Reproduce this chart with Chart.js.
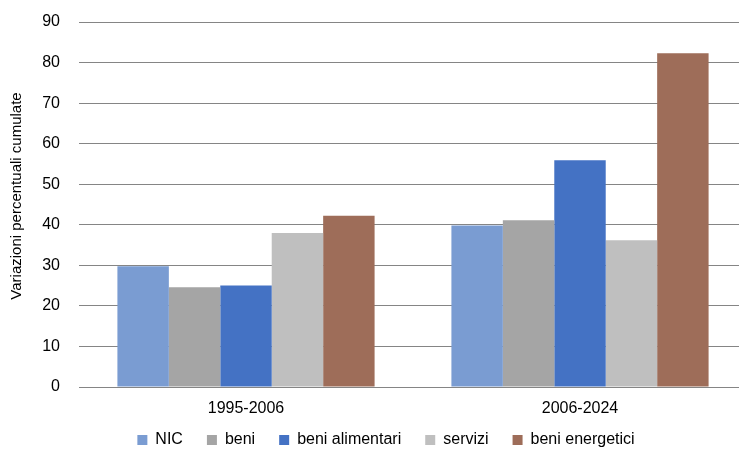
<!DOCTYPE html>
<html>
<head>
<meta charset="utf-8">
<script src="https://cdn.jsdelivr.net/npm/chart.js@4/dist/chart.umd.min.js"></script>
<style>
  html, body { margin: 0; padding: 0; background: #fff; overflow: hidden; }
  #wrap { width: 739px; height: 455px; overflow: hidden; position: relative; }
  #c { position: absolute; left: 0; top: 0; }
</style>
</head>
<body>
<div id="wrap"><canvas id="c" width="748" height="455"></canvas></div>
<script>
const categories = ['1995-2006', '2006-2024'];
const seriesNames = ['NIC', 'beni', 'beni alimentari', 'servizi', 'beni energetici'];
const nic = [29.8, 39.8];
const beni = [24.6, 41.1];
const beniAlimentari = [25.0, 55.9];
const servizi = [38.0, 36.2];
const beniEnergetici = [42.2, 82.3];
const yTicks = [0, 10, 20, 30, 40, 50, 60, 70, 80, 90];
const yTitle = 'Variazioni percentuali cumulate';
const colors = ['#7a9cd2', '#a5a5a5', '#4472c4', '#bfbfbf', '#9e6d59'];

const seriesValues = [nic, beni, beniAlimentari, servizi, beniEnergetici];
const datasets = seriesNames.map((name, i) => ({
  label: name,
  data: seriesValues[i],
  backgroundColor: colors[i],
  borderWidth: 0,
  categoryPercentage: 0.77,
  barPercentage: 1.0
}));

Chart.defaults.font.family = '"Liberation Sans", Arial, sans-serif';
Chart.defaults.color = '#000';

const PLOT_BOTTOM = 387;
const LEGEND_CENTER = 433;
const X_AXIS_HEIGHT = 33;

const layoutPlugin = {
  id: 'layoutPlugin',
  afterLayout(chart) {
    const lg = chart.legend;
    if (lg) {
      const h = lg.height;
      lg.top = LEGEND_CENTER - h / 2;
      lg.bottom = lg.top + h;
    }
    const xs = chart.scales.x;
    if (xs) {
      xs.bottom = xs.top + X_AXIS_HEIGHT;
      xs.height = X_AXIS_HEIGHT;
    }
  },
  afterDraw(chart) {
    const ctx = chart.ctx;
    ctx.save();
    ctx.translate(17, 196);
    ctx.rotate(-Math.PI / 2);
    ctx.font = '15px "Liberation Sans", Arial, sans-serif';
    ctx.fillStyle = '#000';
    ctx.textAlign = 'center';
    ctx.textBaseline = 'middle';
    ctx.fillText(yTitle, 0, 0);
    ctx.restore();
  }
};

new Chart(document.getElementById('c'), {
  type: 'bar',
  data: { labels: categories, datasets },
  plugins: [layoutPlugin],
  options: {
    responsive: false,
    animation: false,
    layout: { padding: { left: 25, right: 1, top: 22, bottom: 0 } },
    plugins: {
      legend: {
        position: 'bottom',
        labels: {
          boxWidth: 10,
          boxHeight: 10,
          padding: 24,
          font: { size: 16 },
          color: '#000'
        }
      },
      tooltip: { enabled: false }
    },
    scales: {
      x: {
        grid: { display: false, drawTicks: false },
        border: { display: false },
        ticks: { font: { size: 16 }, color: '#000', padding: 12 },
        afterFit: s => {
          const lh = s.chart.legend ? s.chart.legend.height : 0;
          s.height = Math.max(1, (455 - PLOT_BOTTOM) - lh);
        }
      },
      y: {
        min: 0,
        max: 90,
        afterBuildTicks: s => { s.ticks = yTicks.map(v => ({ value: v })); },
        grid: { color: '#858585', lineWidth: 1, drawTicks: true, tickLength: 19, tickColor: 'rgba(0,0,0,0)' },
        border: { display: false },
        ticks: { font: { size: 16 }, color: '#000', padding: 0 },
        afterFit: s => { s.width = 54; }
      }
    }
  }
});
</script>
</body>
</html>
